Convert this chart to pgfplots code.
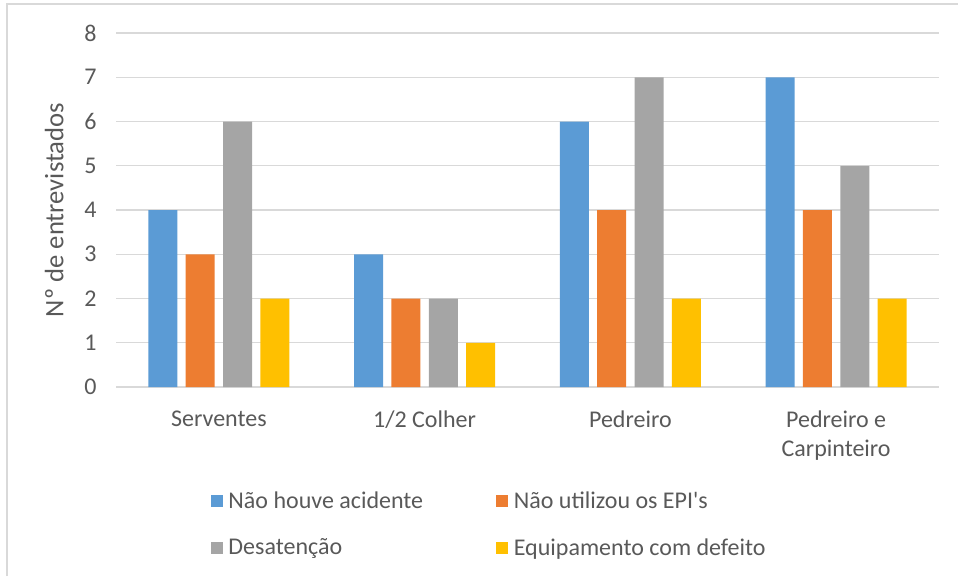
\documentclass[border=0pt]{standalone}
\usepackage{pgfplots}
\pgfplotsset{compat=1.18}
\usepackage{fontspec}
\setmainfont{Carlito}[Ligatures=TeXOff]

\definecolor{serA}{HTML}{5B9BD5}
\definecolor{serB}{HTML}{ED7D31}
\definecolor{serC}{HTML}{A5A5A5}
\definecolor{serD}{HTML}{FFC000}
\definecolor{txt}{HTML}{595959}
\definecolor{gridc}{HTML}{D9D9D9}

\begin{document}
\begin{tikzpicture}[x=0.75pt,y=0.75pt]
\useasboundingbox (0,0) rectangle (958,576);
% chart area frame
\draw[gridc, line width=1.5pt] (7,0) -- (7,572) -- (958,572);
\begin{axis}[
  at={(87pt,141.75pt)}, anchor=south west,
  scale only axis, width=617.25pt, height=265.5pt,
  ybar=6.2pt, bar width=21.75pt,
  xmin=-0.5, xmax=3.5, ymin=0, ymax=8,
  enlarge x limits=false, enlarge y limits=false,
  xtick={0,1,2,3},
  xticklabels={Serventes,1/2 Colher,Pedreiro,{Pedreiro e\\Carpinteiro}},
  ytick={0,1,...,8},
  major tick length=0pt,
  axis line style={draw=none},
  ymajorgrids, grid style={gridc, line width=1.1pt},
  /pgf/number format/assume math mode=true,
  tick label style={color=txt, font=\fontsize{18}{21.75}\selectfont},
  xticklabel style={align=center, yshift=-14.5pt},
  yticklabel style={xshift=-11pt},
  ylabel={Nº de entrevistados},
  every axis y label/.style={at={(axis description cs:-0.075,0.5)}, rotate=90, anchor=center,
    color=txt, font=\fontsize{20}{24}\selectfont},
  legend columns=2,
  legend cell align=left,
  legend style={draw=none, fill=none, at={(axis description cs:0.11,-0.28)}, anchor=north west,
    font=\fontsize{18}{21.75}\selectfont, text=txt, row sep=17pt,
    /tikz/every odd column/.append style={column sep=2.25pt},
    /tikz/every even column/.append style={column sep=52.75pt}},
  legend image code/.code={\fill[#1] (0pt,-4.5pt) rectangle (9pt,4.5pt);},
]
\addplot[fill=serA, draw=none] coordinates {(0,4) (1,3) (2,6) (3,7)};
\addplot[fill=serB, draw=none] coordinates {(0,3) (1,2) (2,4) (3,4)};
\addplot[fill=serC, draw=none] coordinates {(0,6) (1,2) (2,7) (3,5)};
\addplot[fill=serD, draw=none] coordinates {(0,2) (1,1) (2,2) (3,2)};
\legend{Não houve acidente, Não utilizou os EPI's, Desatenção, Equipamento com defeito}
\end{axis}
\end{tikzpicture}
\end{document}
